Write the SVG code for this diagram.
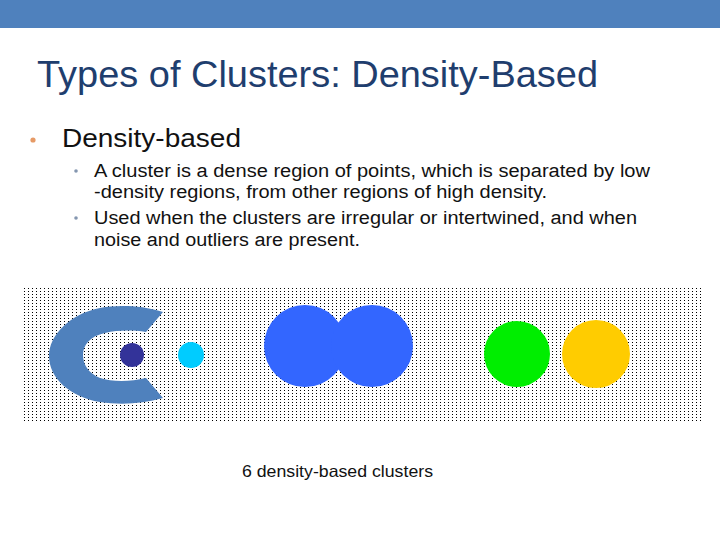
<svg xmlns="http://www.w3.org/2000/svg" width="720" height="540" viewBox="0 0 720 540">
<defs>
<pattern id="dots" x="24" y="288" width="4" height="3" patternUnits="userSpaceOnUse">
<rect x="0" y="0" width="1" height="1" fill="#000"/>
</pattern>
<style>
.t{font-family:"Liberation Sans",Arial,sans-serif;}
.title{font-size:36px;fill:#1f3e6e;}
.l1{font-size:26px;fill:#111;}
.l2{font-size:18px;fill:#111;}
.cap{font-size:16.5px;fill:#111;}
</style>
</defs>
<rect x="0" y="0" width="720" height="540" fill="#fff"/>
<rect x="0" y="0" width="720" height="28" fill="#4f81bd"/>
<text class="t title" x="37" y="87" textLength="561" lengthAdjust="spacingAndGlyphs">Types of Clusters: Density-Based</text>
<circle cx="33" cy="140" r="2.6" fill="#e69a66"/>
<text class="t l1" x="62" y="147" textLength="179" lengthAdjust="spacingAndGlyphs">Density-based</text>
<circle cx="76" cy="171" r="1.8" fill="#8496b0"/>
<text class="t l2" x="94" y="177" textLength="556" lengthAdjust="spacingAndGlyphs">A cluster is a dense region of points, which is separated by low</text>
<text class="t l2" x="94" y="198" textLength="453" lengthAdjust="spacingAndGlyphs">-density regions, from other regions of high density.</text>
<circle cx="76" cy="218" r="1.8" fill="#8496b0"/>
<text class="t l2" x="94" y="224" textLength="543" lengthAdjust="spacingAndGlyphs">Used when the clusters are irregular or intertwined, and when</text>
<text class="t l2" x="94" y="246" textLength="266" lengthAdjust="spacingAndGlyphs">noise and outliers are present.</text>
<rect id="field" x="23" y="287" width="680" height="134" fill="url(#dots)"/>
<g id="cluster-c"><path d="M163,312 C140,305 118,305 100,308 C70,314 49,335 49,356 C49,378 70,397 100,402 C120,405 142,404 163,398 L146,378 C130,382 112,382 100,378 C88,373 83,364 83,355 C83,345 90,336 105,333 C118,330 133,330 146,332 Z" fill="#4f81bd"/></g>
<g id="cluster-dark"><circle cx="132" cy="355" r="12" fill="#333399"/></g>
<g id="cluster-cyan"><circle cx="191" cy="355" r="13" fill="#00ccff"/></g>
<g id="cluster-blue"><circle cx="305" cy="346" r="41" fill="#3366ff"/><circle cx="372" cy="346" r="41" fill="#3366ff"/></g>
<g id="cluster-green"><circle cx="517" cy="354" r="33" fill="#00ee00"/></g>
<g id="cluster-yellow"><circle cx="596" cy="354" r="34" fill="#ffcc00"/></g>
<g id="connectors"></g>
<text class="t cap" x="242" y="477" textLength="191" lengthAdjust="spacingAndGlyphs">6 density-based clusters</text>
</svg>
